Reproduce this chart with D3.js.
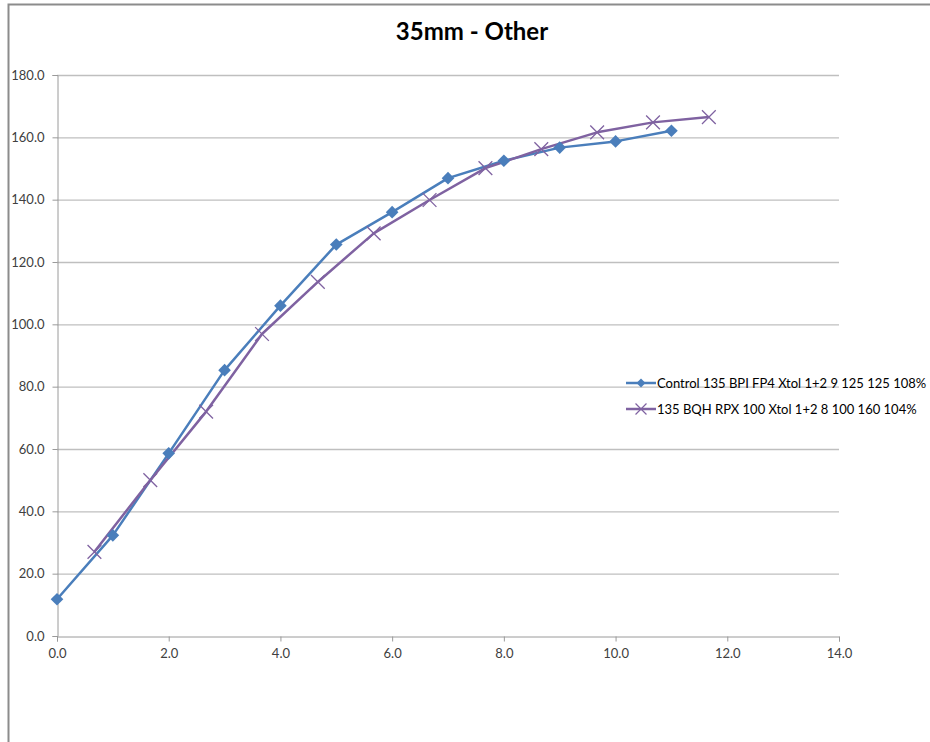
<!DOCTYPE html>
<html>
<head>
<meta charset="utf-8">
<script src="https://cdn.jsdelivr.net/npm/d3@7"></script>
<style>
  body { margin: 0; background: #fff; }
  svg { display: block; font-family: Lato, "Open Sans", sans-serif; }
</style>
</head>
<body>
<svg width="930" height="742"></svg>
<script>
// Data
const controlX = [0, 1, 2, 3, 4, 5, 6, 7, 8, 9, 10, 11];
const controlY = [11.8, 32.3, 58.6, 85.3, 106.0, 125.6, 136.0, 146.9, 152.5, 156.7, 158.7, 162.1];
const rpxX = [0.67, 1.67, 2.67, 3.67, 4.67, 5.67, 6.67, 7.67, 8.67, 9.67, 10.67, 11.67];
const rpxY = [27.0, 50.0, 72.0, 96.9, 113.6, 129.2, 139.9, 150.1, 156.2, 161.6, 164.8, 166.5];
const seriesNames = [
  "Control 135 BPI FP4 Xtol 1+2 9 125 125 108%",
  "135 BQH RPX 100 Xtol 1+2 8 100 160 104%"
];
const xTicks = [0, 2, 4, 6, 8, 10, 12, 14];
const yTicks = [0, 20, 40, 60, 80, 100, 120, 140, 160, 180];
const chartTitle = "35mm - Other";

const colors = { blue: "#4a7ebb", purple: "#7f62a1", grid: "#bfbfbf", axis: "#9a9a9a", text: "#404040" };

const svg = d3.select("svg");
const margin = { left: 57, right: 91, top: 75, bottom: 106 };
const width = 930, height = 742;

// chart border (cropped screenshot)
svg.append("path")
  .attr("d", `M8.5,${height} V4.5 H${width}`)
  .attr("fill", "none")
  .attr("stroke", "#8c8c8c")
  .attr("stroke-width", 2);

const x = d3.scaleLinear().domain([0, 14]).range([margin.left, width - margin.right]);
const y = d3.scaleLinear().domain([0, 180]).range([height - margin.bottom, margin.top]);

// title
svg.append("text")
  .attr("x", 472)
  .attr("y", 40)
  .attr("text-anchor", "middle")
  .style("font-size", "24px")
  .style("font-weight", "bold")
  .style("fill", "#000")
  .text(chartTitle);

// gridlines
svg.append("g")
  .selectAll("line")
  .data(yTicks.filter(d => d > 0))
  .join("line")
  .attr("x1", x(0))
  .attr("x2", x(14))
  .attr("y1", d => y(d) + 0.5)
  .attr("y2", d => y(d) + 0.5)
  .attr("stroke", colors.grid)
  .attr("stroke-width", 1.3);

// axes
const fmt = d3.format(".1f");
const xAxis = svg.append("g")
  .attr("transform", `translate(0,${y(0) + 0.5})`)
  .call(d3.axisBottom(x).tickValues(xTicks).tickFormat(fmt).tickSize(5).tickPadding(7));
const yAxis = svg.append("g")
  .attr("transform", `translate(${x(0) + 0.5},0)`)
  .call(d3.axisLeft(y).tickValues(yTicks).tickFormat(fmt).tickSize(5).tickPadding(8));

[xAxis, yAxis].forEach(g => {
  g.select(".domain").attr("stroke", colors.axis);
  g.selectAll(".tick line").attr("stroke", colors.axis);
  g.selectAll(".tick text")
    .style("font-size", "13px")
    .style("font-family", "Lato, 'Open Sans', sans-serif")
    .attr("fill", colors.text);
});

// lines
const control = controlX.map((d, i) => ({ x: d, y: controlY[i] }));
const rpx = rpxX.map((d, i) => ({ x: d, y: rpxY[i] }));
const line = d3.line().x(d => x(d.x)).y(d => y(d.y));

svg.append("path")
  .datum(control)
  .attr("fill", "none")
  .attr("stroke", colors.blue)
  .attr("stroke-width", 2.5)
  .attr("stroke-linejoin", "round")
  .attr("d", line);

svg.append("path")
  .datum(rpx)
  .attr("fill", "none")
  .attr("stroke", colors.purple)
  .attr("stroke-width", 2.5)
  .attr("stroke-linejoin", "round")
  .attr("d", line);

// markers: square turned 45deg for the Excel-style diamond
const diamond = d3.symbol().type(d3.symbolSquare).size(80);
svg.append("g")
  .selectAll("path")
  .data(control)
  .join("path")
  .attr("transform", d => `translate(${x(d.x)},${y(d.y)}) rotate(45)`)
  .attr("d", diamond)
  .attr("fill", colors.blue);

const cross = d3.symbol().type(d3.symbolX).size(125);
svg.append("g")
  .selectAll("path")
  .data(rpx)
  .join("path")
  .attr("transform", d => `translate(${x(d.x)},${y(d.y)})`)
  .attr("d", cross)
  .attr("fill", "none")
  .attr("stroke", colors.purple)
  .attr("stroke-width", 1.3);

// legend
const legend = svg.append("g").attr("transform", "translate(626,383)");
const items = [
  { name: seriesNames[0], color: colors.blue, fill: true },
  { name: seriesNames[1], color: colors.purple, fill: false }
];
items.forEach((it, i) => {
  const g = legend.append("g").attr("transform", `translate(0,${i * 26})`);
  g.append("line")
    .attr("x1", 0).attr("x2", 30)
    .attr("stroke", it.color).attr("stroke-width", 2.5);
  g.append("path")
    .attr("transform", it.fill ? "translate(15,0) rotate(45)" : "translate(15,0)")
    .attr("d", it.fill ? d3.symbol().type(d3.symbolSquare).size(40)() : d3.symbol().type(d3.symbolX).size(80)())
    .attr("fill", it.fill ? it.color : "none")
    .attr("stroke", it.fill ? "none" : it.color)
    .attr("stroke-width", 1.2);
  g.append("text")
    .attr("x", 31)
    .attr("y", 4.5)
    .style("font-size", "13px")
    .attr("fill", "#000")
    .text(it.name);
});
</script>
</body>
</html>
